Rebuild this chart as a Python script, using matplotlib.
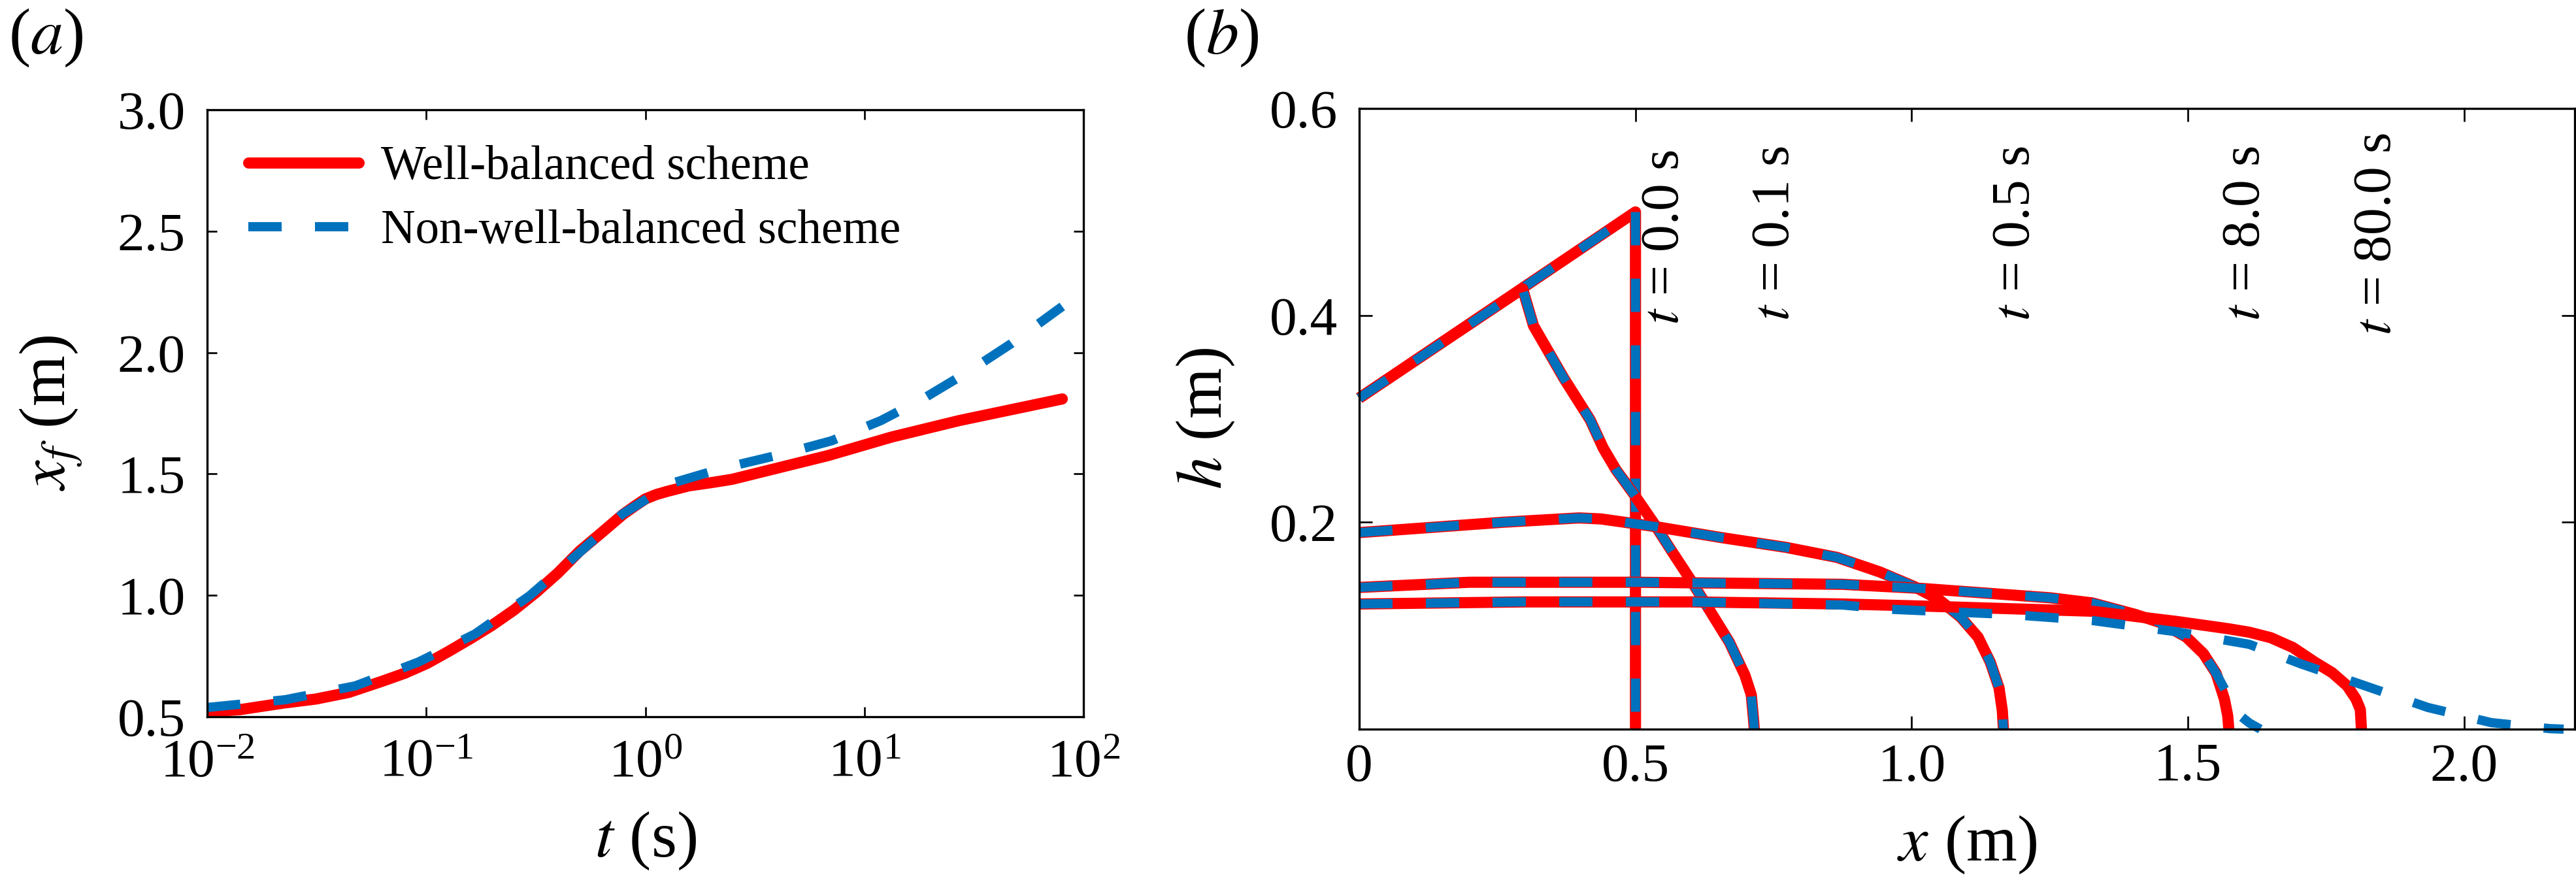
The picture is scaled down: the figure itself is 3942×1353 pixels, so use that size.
import matplotlib
matplotlib.use("Agg")
import matplotlib.pyplot as plt

plt.rcParams['font.family'] = ['Liberation Serif', 'DejaVu Serif']
plt.rcParams['mathtext.fontset'] = 'stix'
plt.rcParams['axes.linewidth'] = 0.8

RED = '#ff0000'
BLUE = '#0072bd'

# ---------------- Panel (a) data: front position x_f vs time ----------------
t_wb = [0.01, 0.01406, 0.0222, 0.0314, 0.0442, 0.0624, 0.0802, 0.101, 0.127,
        0.160, 0.2, 0.252, 0.317, 0.399, 0.501, 0.631, 0.792, 0.889, 1.0,
        1.12, 1.256, 1.58, 1.99, 2.49, 6.84, 13.3, 27.1, 80.0]
xf_wb = [0.52, 0.529, 0.556, 0.573, 0.60, 0.645, 0.680, 0.720, 0.770,
         0.823, 0.877, 0.940, 1.012, 1.092, 1.182, 1.258, 1.334, 1.366, 1.397,
         1.415, 1.428, 1.451, 1.464, 1.478, 1.576, 1.652, 1.720, 1.809]

t_nwb = [0.01, 0.0227, 0.0474, 0.092, 0.167, 0.296, 0.49, 0.783, 0.91, 1.30,
         2.22, 4.27, 7.1, 11.9, 19.1, 30.5, 47.0, 80.0]
xf_nwb = [0.538, 0.57, 0.627, 0.725, 0.841, 0.998, 1.169, 1.334, 1.37, 1.46,
          1.522, 1.583, 1.637, 1.720, 1.817, 1.927, 2.038, 2.19]

# ---------------- Panel (b) data: depth profiles h(x) ----------------
x_t0 = [0.0, 0.5, 0.5]
h_t0 = [0.32, 0.50, 0.0]

x_t01 = [0.0, 0.2957, 0.3154, 0.3706, 0.418, 0.4416, 0.465, 0.4967, 0.532,
         0.5677, 0.599, 0.631, 0.670, 0.698, 0.7096, 0.7136, 0.715]
h_t01 = [0.32, 0.4257, 0.390, 0.339, 0.299, 0.2717, 0.2506, 0.2274, 0.200,
         0.1704, 0.145, 0.1177, 0.084, 0.0523, 0.0333, 0.010, 0.0]

x_t05 = [0.0, 0.26, 0.398, 0.4376, 0.536, 0.654, 0.7727, 0.865, 0.942, 1.004,
         1.050, 1.089, 1.120, 1.142, 1.158, 1.164, 1.166]
h_t05 = [0.190, 0.200, 0.2042, 0.2032, 0.1958, 0.1853, 0.1757, 0.166, 0.152,
         0.138, 0.125, 0.108, 0.089, 0.065, 0.040, 0.018, 0.0]

x_t8_wb = [0.0, 0.2, 0.5, 0.875, 1.019, 1.25, 1.327, 1.404, 1.45, 1.497, 1.528,
           1.551, 1.566, 1.572, 1.574]
h_t8_wb = [0.137, 0.142, 0.142, 0.140, 0.136, 0.127, 0.122, 0.111, 0.103, 0.089,
           0.073, 0.054, 0.029, 0.013, 0.0]
x_t8_nwb = [0.0, 0.2, 0.5, 0.875, 1.019, 1.25, 1.327, 1.404, 1.45, 1.497, 1.528,
            1.551, 1.572, 1.59, 1.611, 1.631]
h_t8_nwb = [0.137, 0.142, 0.142, 0.140, 0.136, 0.127, 0.122, 0.111, 0.103, 0.089,
            0.073, 0.054, 0.033, 0.015, 0.006, 0.0]

x_t80_wb = [0.0, 0.3, 0.6, 0.875, 1.019, 1.327, 1.481, 1.574, 1.611, 1.650, 1.690,
            1.729, 1.761, 1.788, 1.804, 1.812, 1.814]
h_t80_wb = [0.121, 0.123, 0.123, 0.121, 0.119, 0.114, 0.104, 0.097, 0.0937, 0.0884,
            0.0789, 0.065, 0.0546, 0.042, 0.0293, 0.019, 0.0]
x_t80_nwb = [0.0, 0.3, 0.6, 0.875, 0.957, 1.173, 1.327, 1.481, 1.611, 1.705, 1.820,
             1.934, 2.049, 2.155, 2.18]
h_t80_nwb = [0.121, 0.123, 0.123, 0.120, 0.116, 0.111, 0.105, 0.094, 0.082, 0.063, 0.042,
             0.021, 0.0063, 0.0005, 0.0]

time_labels = ['0.0', '0.1', '0.5', '8.0', '80.0']
label_x = [0.554, 0.754, 1.189, 1.605, 1.843]
label_y = [0.391, 0.395, 0.395, 0.395, 0.381]

legend_labels = ['Well-balanced scheme', 'Non-well-balanced scheme']

LW_R = 4.1
LW_B = 3.4
DASH = (0, (3.6, 3.6))

fig = plt.figure(figsize=(13.14, 4.51), dpi=300)
axa = fig.add_axes([0.08042, 0.18921, 0.3402, 0.6866])
axb = fig.add_axes([0.52765, 0.17517, 0.47184, 0.70214])

# ---- panel (a)
axa.plot(t_wb, xf_wb, color=RED, lw=LW_R, solid_capstyle='round',
         solid_joinstyle='round', label=legend_labels[0])
axa.plot(t_nwb, xf_nwb, color=BLUE, lw=LW_B, linestyle=DASH, dash_capstyle='butt',
         label=legend_labels[1])
axa.set_xscale('log')
axa.set_xlim(1e-2, 1e2)
axa.set_ylim(0.5, 3.0)
axa.set_yticks([0.5, 1.0, 1.5, 2.0, 2.5, 3.0])
axa.set_yticklabels(['0.5', '1.0', '1.5', '2.0', '2.5', '3.0'])
axa.set_xticks([1e-2, 1e-1, 1e0, 1e1, 1e2])
axa.minorticks_off()
axa.tick_params(direction='in', top=True, right=True, length=3.6, width=0.65,
                labelsize=20, pad=8)
axa.set_xlabel('$t$ (s)', fontsize=24, labelpad=8)
axa.set_ylabel('$x_f$ (m)', fontsize=24, labelpad=12)
leg = axa.legend(loc='upper left', bbox_to_anchor=(0.047, 0.941), frameon=False,
                 fontsize=17.5, handlelength=2.32, handletextpad=0.47,
                 borderpad=0, borderaxespad=0, labelspacing=0.42)

# ---- panel (b)
kw_r = dict(color=RED, lw=LW_R, clip_on=False, solid_capstyle='butt', solid_joinstyle='round')
kw_b = dict(color=BLUE, lw=LW_B, linestyle=DASH, dash_capstyle='butt', clip_on=False)
for xr, hr, xb, hb in [(x_t0, h_t0, x_t0, h_t0),
                       (x_t01, h_t01, x_t01, h_t01),
                       (x_t05, h_t05, x_t05, h_t05),
                       (x_t8_wb, h_t8_wb, x_t8_nwb, h_t8_nwb),
                       (x_t80_wb, h_t80_wb, x_t80_nwb, h_t80_nwb)]:
    axb.plot(xr, hr, **kw_r)
    axb.plot(xb, hb, **kw_b)

for lab, lx, ly in zip(time_labels, label_x, label_y):
    axb.text(lx, ly, '$t$ = ' + lab + ' s', rotation=90, ha='center', va='bottom',
             fontsize=20)

axb.set_xlim(0, 2.2)
axb.set_ylim(0, 0.6)
axb.set_xticks([0, 0.5, 1.0, 1.5, 2.0])
axb.set_xticklabels(['0', '0.5', '1.0', '1.5', '2.0'])
axb.set_yticks([0.2, 0.4, 0.6])
axb.set_yticklabels(['0.2', '0.4', '0.6'])
axb.tick_params(direction='in', top=True, right=True, length=4.8, width=0.65,
                labelsize=20, pad=8)
axb.tick_params(axis='x', pad=5)
axb.set_xlabel('$x$ (m)', fontsize=24, labelpad=8)
axb.set_ylabel('$h$ (m)', fontsize=24, labelpad=12)

fig.text(0.0033, 0.957, '($a$)', fontsize=24, ha='left', va='center')
fig.text(0.4597, 0.957, '($b$)', fontsize=24, ha='left', va='center')

fig.savefig('out.png', dpi=300)
